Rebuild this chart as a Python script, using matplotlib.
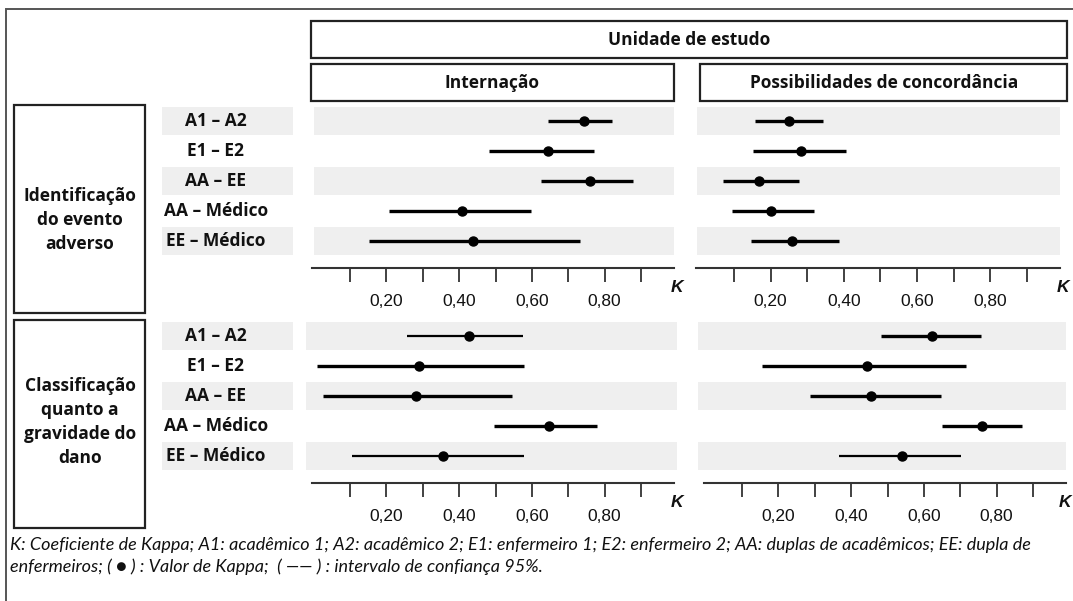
import numpy as np
import matplotlib
matplotlib.use("Agg")
import matplotlib.pyplot as plt
from matplotlib.patches import Rectangle

# dados (coeficiente Kappa e IC 95%)
pares = ["A1 – A2", "E1 – E2", "AA – EE", "AA – Médico", "EE – Médico"]
ticks = [0.1, 0.2, 0.3, 0.4, 0.5, 0.6, 0.7, 0.8, 0.9]
tick_labels = ["", "0,20", "", "0,40", "", "0,60", "", "0,80", ""]

# Identificação do evento adverso - Internação
id_int_k = [0.744, 0.645, 0.760, 0.408, 0.439]
id_int_lo = [0.645, 0.483, 0.625, 0.208, 0.153]
id_int_hi = [0.819, 0.771, 0.879, 0.597, 0.732]

# Identificação do evento adverso - Possibilidades de concordância
id_pos_k = [0.249, 0.282, 0.168, 0.201, 0.259]
id_pos_lo = [0.157, 0.153, 0.069, 0.094, 0.146]
id_pos_hi = [0.344, 0.405, 0.278, 0.319, 0.388]

# Classificação quanto a gravidade do dano - Internação
cl_int_k = [0.426, 0.291, 0.281, 0.648, 0.355]
cl_int_lo = [0.256, 0.010, 0.025, 0.497, 0.106]
cl_int_hi = [0.575, 0.577, 0.545, 0.780, 0.577]

# Classificação quanto a gravidade do dano - Possibilidades de concordância
cl_pos_k = [0.623, 0.445, 0.454, 0.761, 0.541]
cl_pos_lo = [0.482, 0.156, 0.287, 0.649, 0.368]
cl_pos_hi = [0.756, 0.715, 0.647, 0.869, 0.702]

W, H = 1073, 601
fig = plt.figure(figsize=(W / 100, H / 100), dpi=100)
fig.patch.set_facecolor("white")

LAB = "Open Sans"
TXT = "#111111"
BAND = "#efefef"


def rect(x0, y0, x1, y1):
    # pixels -> fração da figura
    return [x0 / W, 1 - y1 / H, (x1 - x0) / W, (y1 - y0) / H]


def caixa(x0, y0, x1, y1, lw=1.6, color="#222222"):
    fig.patches.append(Rectangle((x0 / W, 1 - y1 / H), (x1 - x0) / W, (y1 - y0) / H,
                                 transform=fig.transFigure, fill=False,
                                 edgecolor=color, linewidth=lw, clip_on=False))


# moldura externa
caixa(6, 9, 1090, 620, lw=1.4, color="#555555")

# cabeçalhos
caixa(311, 21, 1067, 58)
fig.text(689 / W, 1 - 40 / H, "Unidade de estudo", ha="center", va="center",
         fontsize=12.5, fontweight="bold", family=LAB, color=TXT)
caixa(311, 64, 674, 101)
fig.text(492 / W, 1 - 83 / H, "Internação", ha="center", va="center",
         fontsize=12.5, fontweight="bold", family=LAB, color=TXT)
caixa(700, 64, 1067, 101)
fig.text(884 / W, 1 - 83 / H, "Possibilidades de concordância", ha="center", va="center",
         fontsize=12.5, fontweight="bold", family=LAB, color=TXT)

# caixas dos grupos
caixa(14, 105, 145, 313)
fig.text(80 / W, 1 - 220 / H, "Identificação\ndo evento\nadverso", ha="center", va="center",
         fontsize=12.5, fontweight="bold", family=LAB, color=TXT, linespacing=1.45)
caixa(14, 320, 145, 528)
fig.text(80 / W, 1 - 422 / H, "Classificação\nquanto a\ngravidade do\ndano", ha="center",
         va="center", fontsize=12.5, fontweight="bold", family=LAB, color=TXT, linespacing=1.45)


def painel(x0, x1, y_top, y_axis, row0, pitch, k, lo, hi, lws, band_lo=0.0, band_hi=0.99,
           k_dx=0):
    ax = fig.add_axes(rect(x0, y_top, x1, y_axis))
    ylo = (y_axis - row0) / pitch
    yhi = (y_top - row0) / pitch
    ax.set_ylim(ylo, yhi)
    ax.set_xlim(0, 1)
    ax.set_facecolor("none")
    y = np.arange(len(k))
    for i in range(0, len(k), 2):
        ax.add_patch(Rectangle((band_lo, i - 0.465), band_hi - band_lo, 0.93,
                               color=BAND, zorder=0, clip_on=False, linewidth=0))
    for i in range(len(k)):
        ax.plot([lo[i], hi[i]], [y[i], y[i]], color="black", lw=lws[i],
                solid_capstyle="butt", zorder=2)
    ax.plot(k, y, "o", color="black", ms=6.5, zorder=3)
    for s in ["top", "right", "left"]:
        ax.spines[s].set_visible(False)
    ax.spines["bottom"].set_color("#333333")
    ax.spines["bottom"].set_linewidth(1.5)
    ax.spines["bottom"].set_bounds(-0.005, 0.99)
    ax.set_yticks([])
    ax.set_xticks(ticks)
    ax.set_xticklabels(tick_labels, family="Liberation Sans", fontsize=12.5, color=TXT)
    ax.tick_params(axis="x", length=10, width=1.3, color="#333333", pad=9)
    ax.annotate("K", xy=(1, 0), xycoords="axes fraction", xytext=(k_dx, -14),
                textcoords="offset points", ha="center", va="center",
                fontsize=12.5, fontweight="bold", fontstyle="italic",
                family="Liberation Sans", color=TXT)
    return ax


def rotulos(y_top, y_axis, row0, pitch):
    ax = fig.add_axes(rect(162, y_top, 293, y_axis))
    ax.set_ylim((y_axis - row0) / pitch, (y_top - row0) / pitch)
    ax.set_xlim(0, 1)
    ax.axis("off")
    for i in range(0, len(pares), 2):
        ax.add_patch(Rectangle((0, i - 0.465), 1, 0.93, color=BAND, zorder=0, linewidth=0))
    for i, p in enumerate(pares):
        ax.text(0.41, i, p, ha="center", va="center", fontsize=12.5,
                fontweight="bold", family=LAB, color=TXT)


thick = [2.4, 2.4, 2.4, 2.4, 2.4]
rotulos(105, 268, 121, 30.1)
painel(313.6, 677.4, 105, 268, 121, 30.1, id_int_k, id_int_lo, id_int_hi, thick)
painel(697.4, 1063.4, 105, 268, 121, 30.1, id_pos_k, id_pos_lo, id_pos_hi, thick)

rotulos(318, 483, 336, 29.9)
painel(313.6, 677.4, 318, 483, 336, 29.9, cl_int_k, cl_int_lo, cl_int_hi,
       [1.6, 2.4, 2.4, 2.4, 1.6], band_lo=-0.02, band_hi=1.0)
painel(705.6, 1069.4, 318, 483, 336, 29.9, cl_pos_k, cl_pos_lo, cl_pos_hi,
       [2.4, 2.4, 2.4, 2.4, 1.6], band_lo=-0.02, band_hi=0.99, k_dx=-3)

# nota de rodapé
nota1 = ("K: Coeficiente de Kappa; A1: acadêmico 1; A2: acadêmico 2; E1: enfermeiro 1; "
         "E2: enfermeiro 2; AA: duplas de acadêmicos; EE: dupla de")
nota2 = "enfermeiros; ( \u25cf ) : Valor de Kappa;  ( \u2014\u2014 ) : intervalo de confiança 95%."
fig.text(10 / W, 1 - 545 / H, nota1, ha="left", va="center", fontsize=13,
         fontstyle="italic", family="Lato", color=TXT)
fig.text(10 / W, 1 - 567 / H, nota2, ha="left", va="center", fontsize=13,
         fontstyle="italic", family="Lato", color=TXT)

fig.savefig("out.png", dpi=100)
